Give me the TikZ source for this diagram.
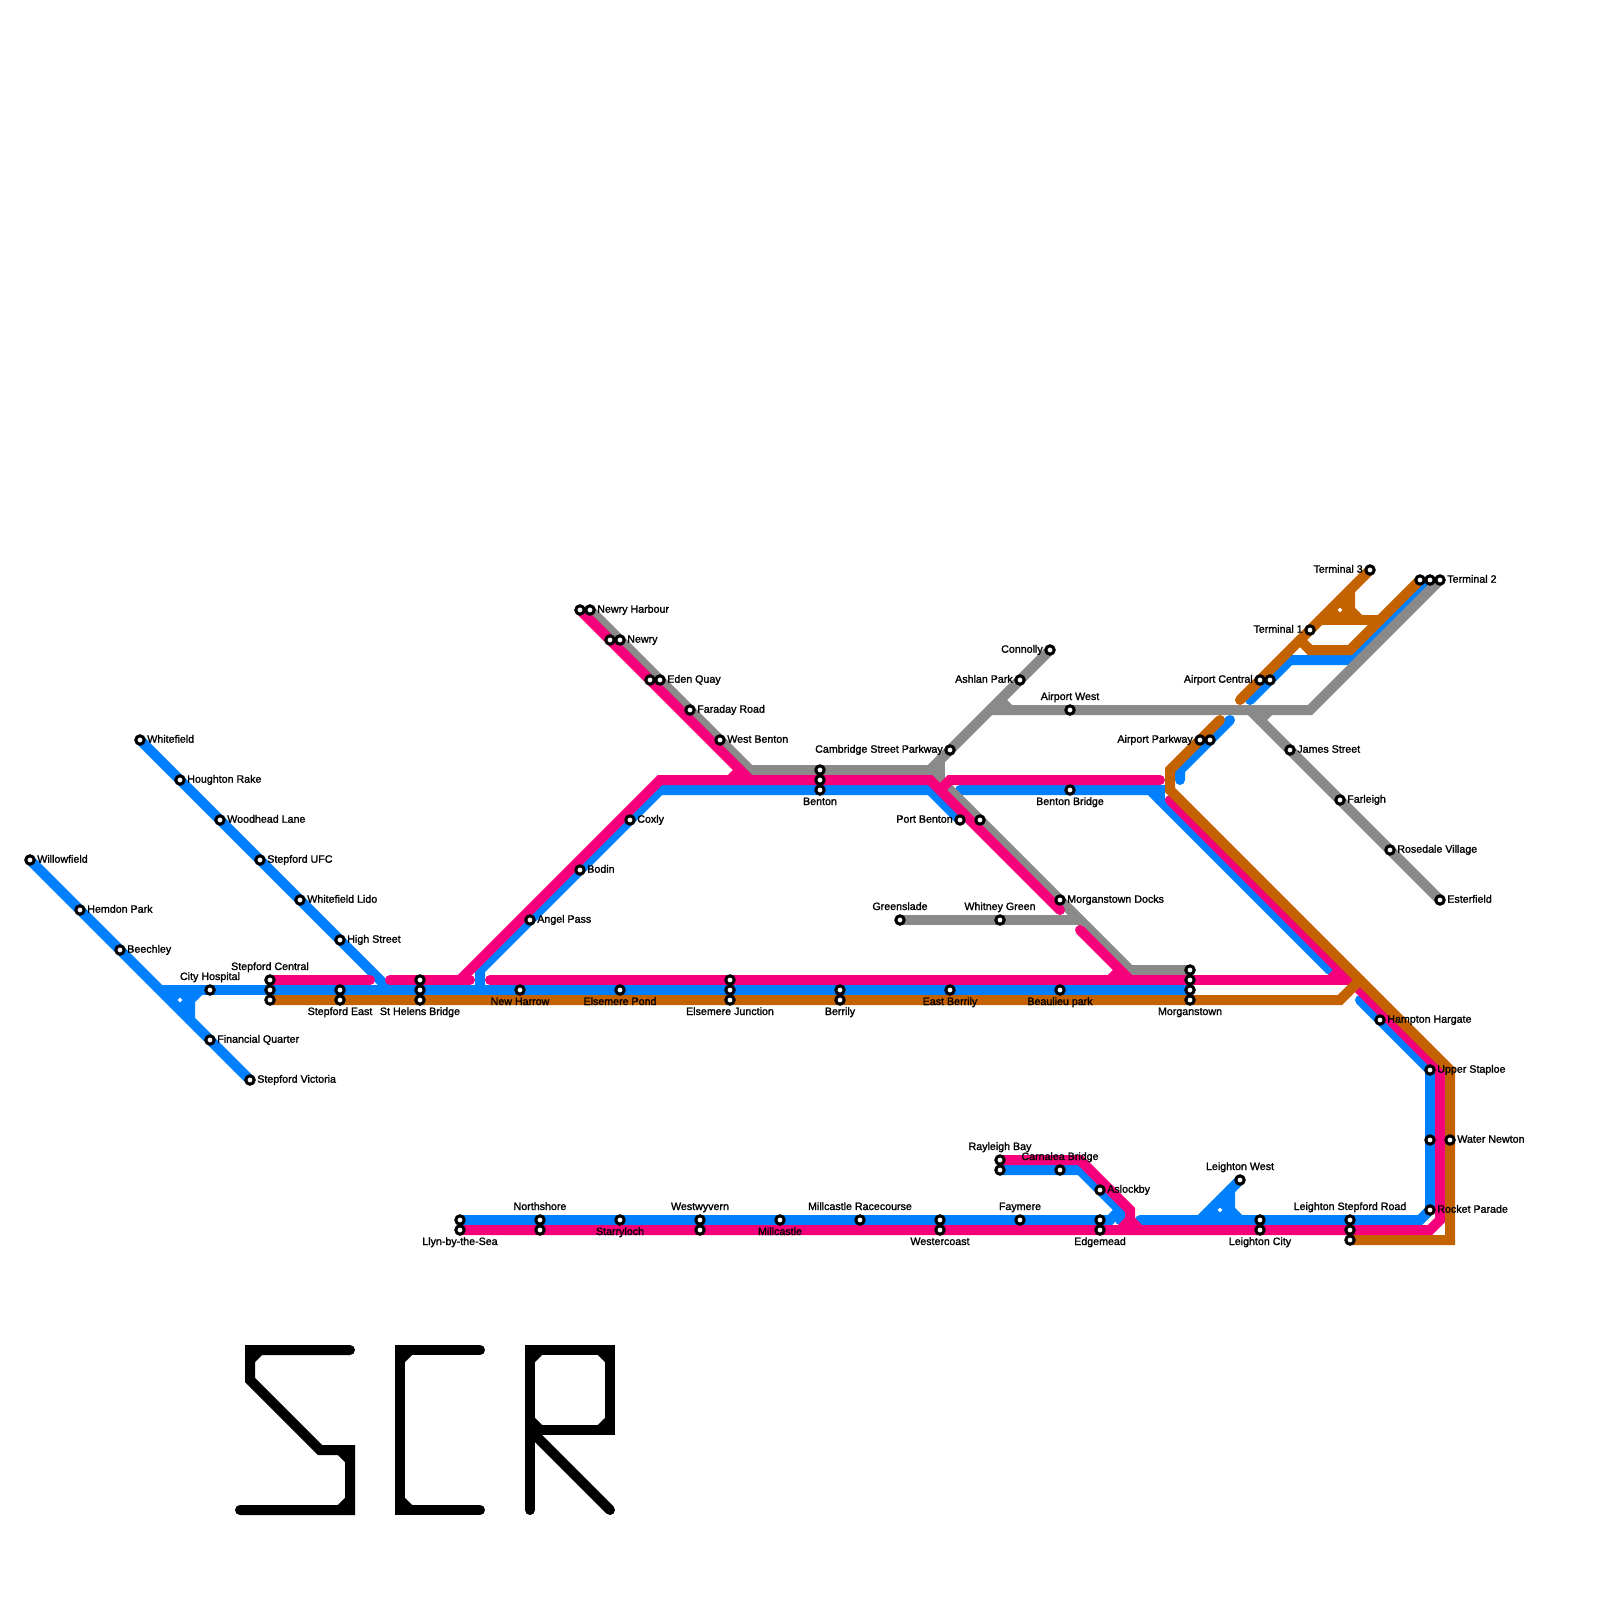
\documentclass[tikz,border=0pt]{standalone}
\usepackage{fontspec}
\setmainfont{Liberation Sans}
\newfontfamily\stnfont[FakeBold=1.5]{Liberation Sans}
\usepackage{xcolor}
\usetikzlibrary{backgrounds,shapes.geometric}
\definecolor{lineblue}{HTML}{0080FF}
\definecolor{linepink}{HTML}{F5007A}
\definecolor{lineorange}{HTML}{C46200}
\definecolor{linegrey}{HTML}{8A8A8A}

\begin{document}
\begin{tikzpicture}[x=1pt,y=-1pt,
   track/.style={line width=10pt,line cap=round,miter limit=10},
   blueline/.style={track,lineblue},
   greyline/.style={track,linegrey},
   pinkline/.style={track,linepink},
   orangeline/.style={track,lineorange},
   logoline/.style={track,black},
   stn/.style={circle,draw=black,fill=white,line width=3pt,minimum size=8.4pt,inner sep=0pt},
   hole/.style={diamond,fill=white,minimum size=5pt,inner sep=0pt},
   lab/.style={font=\stnfont\fontsize{10.67}{11}\selectfont,text=black,inner sep=0pt,outer sep=0pt,text height=7pt,text depth=0pt},
   lblr/.style={label={[lab,label distance=1.6pt,yshift=0.8pt]right:#1}},
   lbll/.style={label={[lab,label distance=1.6pt,yshift=0.8pt]left:#1}},
   lblu/.style={label={[lab,label distance=4.3pt]above:#1}},
   lbld/.style={label={[lab,label distance=2.3pt]below:#1}}]
  \useasboundingbox (0,0) rectangle (1600,1600);
  % west branches
  \node[stn,lblr=Willowfield] (willowfield) at (30,860) {};
  \node[stn,lblr=Hemdon Park] (hemdonpark) at (80,910) {};
  \node[stn,lblr=Beechley] (beechley) at (120,950) {};
  \node[stn,lblr=Financial Quarter] (financialquarter) at (210,1040) {};
  \node[stn,lblr=Stepford Victoria] (stepfordvictoria) at (250,1080) {};
  \node[stn,lblr=Whitefield] (whitefield) at (140,740) {};
  \node[stn,lblr=Houghton Rake] (houghtonrake) at (180,780) {};
  \node[stn,lblr=Woodhead Lane] (woodheadlane) at (220,820) {};
  \node[stn,lblr=Stepford UFC] (stepfordufc) at (260,860) {};
  \node[stn,lblr=Whitefield Lido] (whitefieldlido) at (300,900) {};
  \node[stn,lblr=High Street] (highstreet) at (340,940) {};
  \node[stn,lblu=City Hospital] (cityhospital) at (210,990) {};
  % main line
  \node[stn,lblu=Stepford Central] (stepfordcentralp) at (270,980) {};
  \node[stn] (stepfordcentralb) at (270,990) {};
  \node[stn] (stepfordcentralo) at (270,1000) {};
  \node[stn] (stepfordeastb) at (340,990) {};
  \node[stn,lbld=Stepford East] (stepfordeasto) at (340,1000) {};
  \node[stn] (sthelensp) at (420,980) {};
  \node[stn] (sthelensb) at (420,990) {};
  \node[stn,lbld=St Helens Bridge] (sthelenso) at (420,1000) {};
  \node[stn,lbld=New Harrow] (newharrow) at (520,990) {};
  \node[stn,lbld=Elsemere Pond] (elsemerepond) at (620,990) {};
  \node[stn] (elsemerejunctionp) at (730,980) {};
  \node[stn] (elsemerejunctionb) at (730,990) {};
  \node[stn,lbld=Elsemere Junction] (elsemerejunctiono) at (730,1000) {};
  \node[stn] (berrilyb) at (840,990) {};
  \node[stn,lbld=Berrily] (berrilyo) at (840,1000) {};
  \node[stn,lbld=East Berrily] (eastberrily) at (950,990) {};
  \node[stn,lbld=Beaulieu park] (beaulieupark) at (1060,990) {};
  \node[stn] (morganstowng) at (1190,970) {};
  \node[stn] (morganstownp) at (1190,980) {};
  \node[stn] (morganstownb) at (1190,990) {};
  \node[stn,lbld=Morganstown] (morganstowno) at (1190,1000) {};
  % north west
  \node[stn,lblr=Angel Pass] (angelpass) at (530,920) {};
  \node[stn,lblr=Bodin] (bodin) at (580,870) {};
  \node[stn,lblr=Coxly] (coxly) at (630,820) {};
  \node[stn] (newryharbourp) at (580,610) {};
  \node[stn,lblr=Newry Harbour] (newryharbourg) at (590,610) {};
  \node[stn] (newryp) at (610,640) {};
  \node[stn,lblr=Newry] (newryg) at (620,640) {};
  \node[stn] (edenquayp) at (650,680) {};
  \node[stn,lblr=Eden Quay] (edenquayg) at (660,680) {};
  \node[stn,lblr=Faraday Road] (faradayroad) at (690,710) {};
  \node[stn,lblr=West Benton] (westbenton) at (720,740) {};
  \node[stn] (bentong) at (820,770) {};
  \node[stn] (bentonp) at (820,780) {};
  \node[stn,lbld=Benton] (bentonb) at (820,790) {};
  % centre
  \node[stn,lbll=Cambridge Street Parkway] (cambridgestreet) at (950,750) {};
  \node[stn,lbll=Ashlan Park] (ashlanpark) at (1020,680) {};
  \node[stn,lbll=Connolly] (connolly) at (1050,650) {};
  \node[stn,lblu=Airport West] (airportwest) at (1070,710) {};
  \node[stn,lbld=Benton Bridge] (bentonbridge) at (1070,790) {};
  \node[stn,lbll=Port Benton] (portbenton) at (960,820) {};
  \node[stn] (portbentong) at (980,820) {};
  \node[stn,lblu=Greenslade] (greenslade) at (900,920) {};
  \node[stn,lblu=Whitney Green] (whitneygreen) at (1000,920) {};
  \node[stn,lblr=Morganstown Docks] (morganstowndocks) at (1060,900) {};
  % airport
  \node[stn,lbll=Airport Parkway] (airportparkwayo) at (1200,740) {};
  \node[stn] (airportparkwayb) at (1210,740) {};
  \node[stn,lbll=Airport Central] (airportcentralo) at (1260,680) {};
  \node[stn] (airportcentralb) at (1270,680) {};
  \node[stn,lbll=Terminal 1] (terminalone) at (1310,630) {};
  \node[stn,lbll=Terminal 3] (terminalthree) at (1370,570) {};
  \node[stn] (terminaltwoo) at (1420,580) {};
  \node[stn] (terminaltwob) at (1430,580) {};
  \node[stn,lblr=Terminal 2] (terminaltwog) at (1440,580) {};
  \node[stn,lblr=James Street] (jamesstreet) at (1290,750) {};
  \node[stn,lblr=Farleigh] (farleigh) at (1340,800) {};
  \node[stn,lblr=Rosedale Village] (rosedalevillage) at (1390,850) {};
  \node[stn,lblr=Esterfield] (esterfield) at (1440,900) {};
  % east side
  \node[stn,lblr=Hampton Hargate] (hamptonhargate) at (1380,1020) {};
  \node[stn,lblr=Upper Staploe] (upperstaploe) at (1430,1070) {};
  \node[stn] (waternewtonb) at (1430,1140) {};
  \node[stn,lblr=Water Newton] (waternewtono) at (1450,1140) {};
  \node[stn,lblr=Rocket Parade] (rocketparade) at (1430,1210) {};
  % south line
  \node[stn] (llynb) at (460,1220) {};
  \node[stn,lbld=Llyn-by-the-Sea] (llynp) at (460,1230) {};
  \node[stn,lblu=Northshore] (northshoreb) at (540,1220) {};
  \node[stn] (northshorep) at (540,1230) {};
  \node[stn,lbld=Starryloch] (starryloch) at (620,1220) {};
  \node[stn,lblu=Westwyvern] (westwyvernb) at (700,1220) {};
  \node[stn] (westwyvernp) at (700,1230) {};
  \node[stn,lbld=Millcastle] (millcastle) at (780,1220) {};
  \node[stn,lblu=Millcastle Racecourse] (millcastleracecourse) at (860,1220) {};
  \node[stn] (westercoastb) at (940,1220) {};
  \node[stn,lbld=Westercoast] (westercoastp) at (940,1230) {};
  \node[stn,lblu=Faymere] (faymere) at (1020,1220) {};
  \node[stn] (edgemeadb) at (1100,1220) {};
  \node[stn,lbld=Edgemead] (edgemeadp) at (1100,1230) {};
  \node[stn,lblr=Aslockby] (aslockby) at (1100,1190) {};
  \node[stn,lblu=Carnalea Bridge] (carnaleabridge) at (1060,1170) {};
  \node[stn,lblu=Rayleigh Bay] (rayleighbayp) at (1000,1160) {};
  \node[stn] (rayleighbayb) at (1000,1170) {};
  \node[stn,lblu=Leighton West] (leightonwest) at (1240,1180) {};
  \node[stn] (leightoncityb) at (1260,1220) {};
  \node[stn,lbld=Leighton City] (leightoncityp) at (1260,1230) {};
  \node[stn,lblu=Leighton Stepford Road] (leightonroadb) at (1350,1220) {};
  \node[stn] (leightonroadp) at (1350,1230) {};
  \node[stn] (leightonroado) at (1350,1240) {};
  % bends and free ends
  \coordinate (bwest) at (170,990);
  \coordinate (bwturn) at (200,990);
  \coordinate (bwelbow) at (190,1000);
  \coordinate (bwfoot) at (190,1020);
  \coordinate (bwtip) at (162,985);
  \coordinate (bwroof) at (190,985);
  \coordinate (bjoin) at (390,990);
  \coordinate (bstub) at (480,970);
  \coordinate (bstubfoot) at (480,990);
  \coordinate (bbentonw) at (660,790);
  \coordinate (bbentone) at (930,790);
  \coordinate (bbridgew) at (960,790);
  \coordinate (bbridgee) at (1150,790);
  \coordinate (bbridgec) at (1160,790);
  \coordinate (bbridges) at (1160,800);
  \coordinate (bdiagend) at (1330,970);
  \coordinate (bdiagstart) at (1360,1000);
  \coordinate (bsouthe) at (1420,1220);
  \coordinate (bsouthw) at (1140,1220);
  \coordinate (bsplit) at (1110,1220);
  \coordinate (bsplitup) at (1120,1210);
  \coordinate (bsplitfoot) at (1120,1220);
  \coordinate (bcarn) at (1080,1170);
  \coordinate (blfoot) at (1200,1220);
  \coordinate (blknee) at (1230,1190);
  \coordinate (blelbow) at (1230,1210);
  \coordinate (blfooty) at (1240,1220);
  \coordinate (blcorner) at (1230,1220);
  \coordinate (baira) at (1250,700);
  \coordinate (bairb) at (1290,660);
  \coordinate (bairc) at (1350,660);
  \coordinate (bparka) at (1230,720);
  \coordinate (bparkb) at (1180,770);
  \coordinate (bparkc) at (1180,780);
  \coordinate (gbentonw) at (750,770);
  \coordinate (gbentone) at (930,770);
  \coordinate (gmorgan) at (1130,970);
  \coordinate (gcamb) at (940,760);
  \coordinate (gcambs) at (940,780);
  \coordinate (gaira) at (990,710);
  \coordinate (gairb) at (1310,710);
  \coordinate (gjames) at (1250,710);
  \coordinate (gjamesa) at (1270,710);
  \coordinate (gjamesb) at (1260,720);
  \coordinate (gashlana) at (1000,700);
  \coordinate (gashlanb) at (1010,710);
  \coordinate (ggreen) at (1080,920);
  \coordinate (pwesta) at (370,980);
  \coordinate (pwestb) at (390,980);
  \coordinate (pwestc) at (470,980);
  \coordinate (pdiag) at (460,980);
  \coordinate (pbentonw) at (660,780);
  \coordinate (pbentone) at (930,780);
  \coordinate (pnewry) at (750,780);
  \coordinate (pdocks) at (1060,910);
  \coordinate (pstuba) at (740,770);
  \coordinate (pstubb) at (730,780);
  \coordinate (pmaina) at (490,980);
  \coordinate (pmainb) at (1350,980);
  \coordinate (pmida) at (1080,930);
  \coordinate (pmidb) at (1130,980);
  \coordinate (pstubc) at (1120,970);
  \coordinate (pstubd) at (1110,980);
  \coordinate (pstube) at (1340,970);
  \coordinate (pstubf) at (1330,980);
  \coordinate (pbridgee) at (1160,780);
  \coordinate (pbridgew) at (950,780);
  \coordinate (pbridges) at (940,790);
  \coordinate (peasta) at (1170,800);
  \coordinate (peastb) at (1440,1070);
  \coordinate (peastc) at (1440,1220);
  \coordinate (peastd) at (1430,1230);
  \coordinate (pcarna) at (1080,1160);
  \coordinate (pcarnb) at (1130,1210);
  \coordinate (pcarnc) at (1130,1220);
  \coordinate (pcarnd) at (1120,1230);
  \coordinate (pcarne) at (1140,1230);
  \coordinate (omaine) at (1340,1000);
  \coordinate (omainf) at (1360,980);
  \coordinate (oparka) at (1220,720);
  \coordinate (oparkb) at (1170,770);
  \coordinate (oparkc) at (1170,790);
  \coordinate (oeasta) at (1450,1070);
  \coordinate (oeastb) at (1450,1240);
  \coordinate (oaira) at (1240,700);
  \coordinate (oloopa) at (1300,640);
  \coordinate (oloopb) at (1310,650);
  \coordinate (oloopc) at (1350,650);
  \coordinate (oupa) at (1320,620);
  \coordinate (oupb) at (1380,620);
  \coordinate (ospura) at (1350,590);
  \coordinate (ospurb) at (1350,610);
  \coordinate (ospurc) at (1360,620);
  \coordinate (ocorner) at (1350,620);
  % logo
  \coordinate (sa) at (350,1350); \coordinate (sb) at (250,1350); \coordinate (sc) at (250,1380);
  \coordinate (sd) at (320,1450); \coordinate (se) at (350,1450); \coordinate (sf) at (350,1510);
  \coordinate (sg) at (240,1510);
  \coordinate (sh) at (250,1360); \coordinate (si) at (260,1350);
  \coordinate (sj) at (340,1450); \coordinate (sk) at (350,1460);
  \coordinate (sl) at (350,1500); \coordinate (sm) at (340,1510);
  \coordinate (ca) at (480,1350); \coordinate (cb) at (400,1350); \coordinate (cc) at (400,1510);
  \coordinate (cd) at (480,1510);
  \coordinate (ce) at (400,1360); \coordinate (cf) at (410,1350);
  \coordinate (cg) at (400,1500); \coordinate (ch) at (410,1510);
  \coordinate (ra) at (530,1510); \coordinate (rb) at (530,1350); \coordinate (rc) at (610,1350);
  \coordinate (rd) at (610,1430); \coordinate (re) at (530,1430); \coordinate (rf) at (610,1510);
  \coordinate (rg) at (540,1430); \coordinate (rh) at (530,1440);
  \coordinate (ri) at (530,1360); \coordinate (rj) at (540,1350);
  \coordinate (rk) at (600,1350); \coordinate (rl) at (610,1360);
  \coordinate (rm) at (610,1420); \coordinate (rn) at (600,1430);
  \coordinate (ro) at (530,1420);

  \begin{scope}[on background layer]
    \draw[blueline] (willowfield.center) -- (stepfordvictoria.center);
    \draw[blueline] (whitefield.center) -- (bjoin);
    \draw[blueline] (bwest) -- (morganstownb.center);
    \draw[blueline] (bwturn) -- (bwelbow) -- (bwfoot);
    \fill[lineblue] (bwtip) -- (bwroof) -- (bwfoot) -- cycle;
    \draw[blueline] (bstubfoot) -- (bstub) -- (bbentonw) -- (bbentone) -- (portbenton.center);
    \draw[blueline] (bbridgew) -- (bbridgee) -- (bdiagend);
    \draw[blueline] (bbridgee) -- (bbridgec) -- (bbridges);
    \draw[blueline] (bdiagstart) -- (upperstaploe.center) -- (rocketparade.center) -- (bsouthe) -- (bsouthw);
    \draw[blueline] (llynb.center) -- (bsplit) -- (bsplitup) -- (bcarn) -- (rayleighbayb.center);
    \draw[blueline] (bsplitup) -- (bsplitfoot);
    \draw[blueline] (blfoot) -- (leightonwest.center);
    \draw[blueline] (blknee) -- (blelbow) -- (blfooty);
    \fill[lineblue] (blfoot) -- (blknee) -- (blcorner) -- cycle;
    \draw[blueline] (baira) -- (bairb) -- (bairc) -- (terminaltwob.center);
    \draw[blueline] (bparka) -- (bparkb) -- (bparkc);

    \draw[greyline] (newryharbourg.center) -- (gbentonw) -- (gbentone) -- (gmorgan) -- (morganstowng.center);
    \draw[greyline] (connolly.center) -- (gbentone);
    \draw[greyline] (gcamb) -- (gcambs);
    \draw[greyline] (gaira) -- (gairb) -- (terminaltwog.center);
    \draw[greyline] (gjames) -- (esterfield.center);
    \draw[greyline] (gjamesa) -- (gjamesb);
    \draw[greyline] (gashlana) -- (gashlanb);
    \draw[greyline] (greenslade.center) -- (ggreen);

    \draw[pinkline] (stepfordcentralp.center) -- (pwesta);
    \draw[pinkline] (pwestb) -- (pwestc);
    \draw[pinkline] (pdiag) -- (pbentonw) -- (pbentone) -- (pdocks);
    \draw[pinkline] (newryharbourp.center) -- (pnewry);
    \draw[pinkline] (pstuba) -- (pstubb);
    \draw[pinkline] (pmaina) -- (pmainb);
    \draw[pinkline] (pmida) -- (pmidb);
    \draw[pinkline] (pstubc) -- (pstubd);
    \draw[pinkline] (pstube) -- (pstubf);
    \draw[pinkline] (pbridgee) -- (pbridgew) -- (pbridges);
    \draw[pinkline] (peasta) -- (peastb) -- (peastc) -- (peastd) -- (llynp.center);
    \draw[pinkline] (rayleighbayp.center) -- (pcarna) -- (pcarnb) -- (pcarnc) -- (pcarnd);
    \draw[pinkline] (pcarnc) -- (pcarne);

    \draw[orangeline] (stepfordcentralo.center) -- (omaine) -- (omainf);
    \draw[orangeline] (oparka) -- (oparkb) -- (oparkc) -- (oeasta) -- (oeastb) -- (leightonroado.center);
    \draw[orangeline] (oaira) -- (terminalthree.center);
    \draw[orangeline] (oloopa) -- (oloopb) -- (oloopc) -- (terminaltwoo.center);
    \draw[orangeline] (oupa) -- (oupb);
    \draw[orangeline] (ospura) -- (ospurb) -- (ospurc);
    \fill[lineorange] (oupa) -- (ospura) -- (ocorner) -- cycle;
  \end{scope}

  \node[hole] (holewest) at (180,1000) {};
  \node[hole] (holeleighton) at (1220,1210) {};
  \node[hole] (holeterminal) at (1340,610) {};

  % SCR
  \draw[logoline] (sa) -- (sb) -- (sc) -- (sd) -- (se) -- (sf) -- (sg);
  \draw[logoline] (sh) -- (si);
  \draw[logoline] (sj) -- (sk);
  \draw[logoline] (sl) -- (sm);
  \draw[logoline] (ca) -- (cb) -- (cc) -- (cd);
  \draw[logoline] (ce) -- (cf);
  \draw[logoline] (cg) -- (ch);
  \draw[logoline] (ra) -- (rb) -- (rc) -- (rd) -- (re);
  \draw[logoline] (re) -- (rf);
  \draw[logoline] (rg) -- (rh);
  \draw[logoline] (ri) -- (rj);
  \draw[logoline] (rk) -- (rl);
  \draw[logoline] (rm) -- (rn);
  \draw[logoline] (ro) -- (rg);
\end{tikzpicture}
\end{document}
